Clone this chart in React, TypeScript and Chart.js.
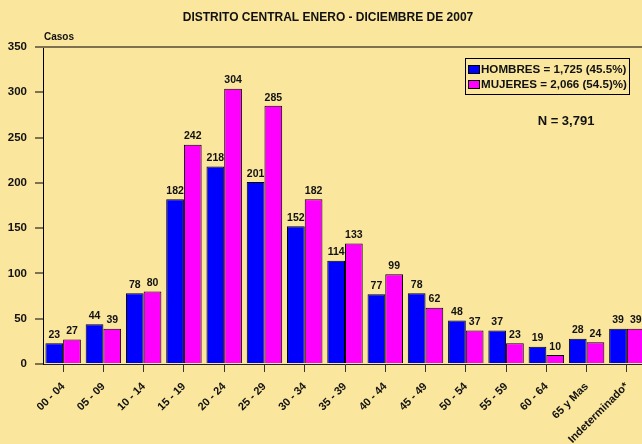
import React, { useEffect, useRef } from "react";
import { Chart, registerables } from "chart.js";

Chart.register(...registerables);

const categories = [
  "00 - 04", "05 - 09", "10 - 14", "15 - 19", "20 - 24", "25 - 29", "30 - 34",
  "35 - 39", "40 - 44", "45 - 49", "50 - 54", "55 - 59", "60 - 64", "65 y Mas", "Indeterminado*",
];
const hombres = [23, 44, 78, 182, 218, 201, 152, 114, 77, 78, 48, 37, 19, 28, 39];
const mujeres = [27, 39, 80, 242, 304, 285, 182, 133, 99, 62, 37, 23, 10, 24, 39];
const seriesNames = ["HOMBRES = 1,725 (45.5%)", "MUJERES = 2,066 (54.5)%)"];
const titleText = "DISTRITO CENTRAL ENERO - DICIEMBRE DE 2007";
const yTitle = "Casos";
const noteText = "N = 3,791";

const BG = "#FAE69C";
const FONT = "'Liberation Sans', Arial, sans-serif";
const BLUE = "#0000FF";
const PINK = "#FF00FF";

const decorPlugin = {
  id: "decor",
  beforeDraw(chart: any) {
    const { ctx, width, height } = chart;
    ctx.save();
    ctx.fillStyle = BG;
    ctx.fillRect(0, 0, width, height);
    ctx.restore();
  },
  afterDraw(chart: any) {
    const { ctx, chartArea } = chart;
    ctx.save();
    // top line
    ctx.strokeStyle = "#7d7150";
    ctx.lineWidth = 2;
    ctx.beginPath();
    ctx.moveTo(35, chartArea.top);
    ctx.lineTo(chart.width, chartArea.top);
    ctx.stroke();

    ctx.fillStyle = "#111";
    ctx.textAlign = "center";
    ctx.textBaseline = "middle";
    ctx.font = `bold 12px ${FONT}`;
    ctx.fillText(titleText, 328, 18);

    ctx.textAlign = "left";
    ctx.font = `bold 10px ${FONT}`;
    ctx.fillText(yTitle, 44, 37);

    // legend
    ctx.strokeStyle = "#000";
    ctx.lineWidth = 1;
    ctx.strokeRect(465.5, 58.5, 164, 36);
    const colors = [BLUE, PINK];
    ctx.font = `bold 11.6px ${FONT}`;
    seriesNames.forEach((name, i) => {
      const y = 69 + i * 15;
      ctx.fillStyle = colors[i];
      ctx.fillRect(468, y - 4, 12, 9);
      ctx.strokeStyle = "#000";
      ctx.strokeRect(468.5, y - 3.5, 11, 8);
      ctx.fillStyle = "#111";
      ctx.fillText(name, 481, y + 1);
    });

    ctx.textAlign = "center";
    ctx.font = `bold 13px ${FONT}`;
    ctx.fillText(noteText, 566, 121);

    // data labels
    ctx.font = `bold 10.5px ${FONT}`;
    ctx.textBaseline = "bottom";
    chart.data.datasets.forEach((ds: any, di: number) => {
      const meta = chart.getDatasetMeta(di);
      meta.data.forEach((el: any, i: number) => {
        ctx.fillText(String(ds.data[i]), el.x, el.y - 3);
      });
    });
    ctx.restore();
  },
};

export default function App() {
  const ref = useRef<HTMLCanvasElement>(null);
  useEffect(() => {
    if (!ref.current) return;
    const chart = new Chart(ref.current, {
      type: "bar",
      data: {
        labels: categories,
        datasets: [
          { label: "HOMBRES", data: hombres, backgroundColor: BLUE, borderColor: "#000", borderWidth: 1 },
          { label: "MUJERES", data: mujeres, backgroundColor: PINK, borderColor: "#000", borderWidth: 1 },
        ],
      },
      options: {
        responsive: false,
        animation: false,
        layout: { padding: { top: 47, left: 0, right: 13, bottom: 0 } },
        datasets: { bar: { categoryPercentage: 0.88, barPercentage: 1 } },
        plugins: { legend: { display: false }, title: { display: false }, tooltip: { enabled: false } },
        scales: {
          x: {
            afterFit: (s: any) => { s.height = 80; s.paddingLeft = 0; s.paddingRight = 0; },
            border: { color: "#222", width: 1 },
            grid: { drawOnChartArea: false, offset: false, tickLength: 8, tickColor: "#333", color: "#333" },
            ticks: {
              minRotation: 45, maxRotation: 45, autoSkip: false, padding: 8,
              color: "#111", font: { family: FONT, size: 11, weight: "bold" },
            },
          },
          y: {
            min: 0, max: 350,
            afterFit: (s: any) => { s.width = 43; },
            border: { color: "#000", width: 1 },
            grid: { drawOnChartArea: false, tickLength: 8, tickColor: "#7d7150", lineWidth: 2 },
            ticks: { stepSize: 50, padding: 8, color: "#111", font: { family: FONT, size: 11.5, weight: "bold" } },
          },
        },
      },
      plugins: [decorPlugin],
    });
    return () => chart.destroy();
  }, []);
  return (
    <div style={{ position: "fixed", left: 0, top: 0, width: 642, height: 444, overflow: "hidden", background: BG }}>
      <canvas ref={ref} width={660} height={444} style={{ display: "block", width: 660, height: 444 }} />
    </div>
  );
}
